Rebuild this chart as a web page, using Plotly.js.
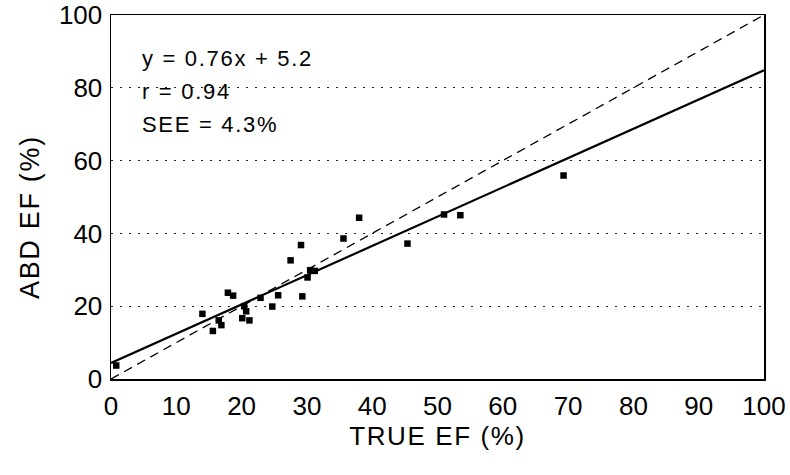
<!DOCTYPE html>
<html>
<head>
<meta charset="utf-8">
<script src="https://cdn.plot.ly/plotly-3.0.1.min.js"></script>
<style>
html,body{margin:0;padding:0;background:#fff;}
#chart{width:790px;height:475px;}
.xtitle, .ytitle {letter-spacing: 1.6px;}
.annotation-text {letter-spacing: 1.7px;}
</style>
</head>
<body>
<div id="chart"></div>
<script>
// Data
const trueEF = [0.8, 14.0, 15.6, 16.5, 16.9, 17.9, 18.7, 20.1, 20.4, 20.7, 21.2, 22.9, 24.7, 25.6, 29.3, 27.5, 29.1, 30.1, 30.5, 31.2, 35.6, 38.0, 45.4, 51.0, 53.5, 69.3];
const abdEF  = [3.7, 17.9, 13.2, 16.1, 14.8, 23.7, 22.9, 16.7, 20.0, 18.6, 16.1, 22.3, 19.9, 23.0, 22.7, 32.6, 36.8, 27.9, 29.9, 29.7, 38.6, 44.3, 37.2, 45.2, 45.0, 55.9];
const fitX = [0, 100];
const fitY = [4.4, 84.8];
const idX = [0, 100];
const idY = [0, 100];
const xTicks = [0, 10, 20, 30, 40, 50, 60, 70, 80, 90, 100];
const yTicks = [0, 20, 40, 60, 80, 100];
const statLines = ["y = 0.76x + 5.2", "r = 0.94", "SEE = 4.3%"];
const statY = [88, 79, 70];
const yTitle = "ABD EF (%)";
const xTitle = "TRUE EF (%)";

const FONT = "Liberation Sans, Arial, Helvetica, sans-serif";

const traces = [
  {x: idX, y: idY, mode: "lines", line: {color: "#000", width: 1.3, dash: "9px,6px"}, hoverinfo: "skip"},
  {x: fitX, y: fitY, mode: "lines", line: {color: "#000", width: 2.2}, hoverinfo: "skip"},
  {x: trueEF, y: abdEF, mode: "markers", marker: {symbol: "square", size: 6.5, color: "#000"}}
];

const annotations = statLines.map((t, i) => ({
  x: 4.5, y: statY[i], xref: "x", yref: "y", text: t, showarrow: false,
  xanchor: "left", yanchor: "middle", font: {family: FONT, size: 22, color: "#000"}
}));
annotations.push({
  x: -0.124, y: 0.445, xref: "paper", yref: "paper", text: yTitle, showarrow: false,
  textangle: -90, xanchor: "center", yanchor: "middle",
  font: {family: FONT, size: 27, color: "#000"}
});

const layout = {
  width: 790, height: 475,
  margin: {l: 111, r: 26, t: 15, b: 96},
  paper_bgcolor: "#fff", plot_bgcolor: "#fff",
  showlegend: false,
  font: {family: FONT, color: "#000"},
  xaxis: {
    range: [0, 100], tickvals: xTicks, ticktext: xTicks.map(String),
    showgrid: false, zeroline: false, showline: true, mirror: true,
    linecolor: "#000", linewidth: 1.5, ticks: "", ticklabelstandoff: 3,
    tickfont: {family: FONT, size: 26, color: "#000"},
    title: {text: xTitle, font: {family: FONT, size: 26, color: "#000"}, standoff: 1}
  },
  yaxis: {
    range: [0, 100], tickvals: yTicks, ticktext: yTicks.map(String),
    showgrid: true, gridcolor: "#222", griddash: "1.5px,7.5px", gridwidth: 1.2,
    zeroline: false, showline: true, mirror: true,
    linecolor: "#000", linewidth: 1.5, ticks: "", ticklabelstandoff: 2,
    tickfont: {family: FONT, size: 26, color: "#000"}
  },
  annotations: annotations
};

Plotly.newPlot("chart", traces, layout, {displayModeBar: false, staticPlot: true});
</script>
</body>
</html>
